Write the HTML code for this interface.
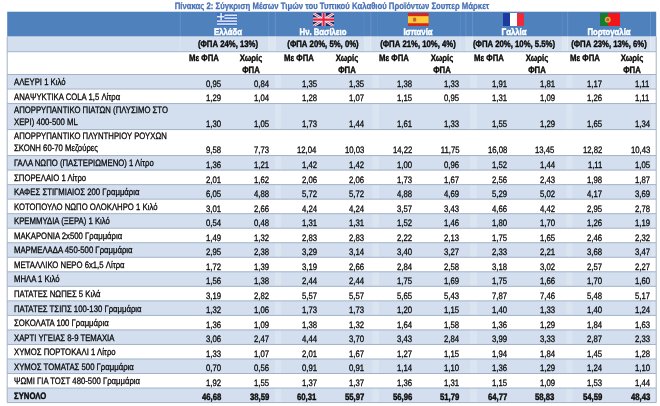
<!DOCTYPE html><html lang="el"><head><meta charset="utf-8"><title>Πίνακας 2</title><style>
html,body{margin:0;padding:0;background:#fff;}
#pg{position:absolute;left:0;top:0;width:660px;height:406px;filter:blur(0.4px);}
body{width:660px;height:406px;overflow:hidden;position:relative;font-family:"Liberation Sans",sans-serif;font-size:9.3px;color:#0a0a0a;text-rendering:geometricPrecision;-webkit-text-stroke-width:0.3px;}
.abs{position:absolute;}
.t{position:absolute;white-space:nowrap;line-height:1;display:block;}
.l{transform:scaleX(0.833);transform-origin:0 0;}
.r{transform:scaleX(0.833);transform-origin:100% 0;text-align:right;}
.c{transform:translateX(-50%) scaleX(0.833);transform-origin:50% 0;text-align:center;}
.b{font-weight:bold;-webkit-text-stroke-width:0.4px;}
.w{-webkit-text-stroke-width:0.55px;}
.flag{position:absolute;display:block;}
#title{color:#4a72b6;font-weight:bold;}
.hd{background:#4f81bd;}
.band{background:#d3dfee;}
.ln{position:absolute;background:#b7c5d9;}
.w{color:#fff;}
</style></head><body><div id="pg">
<div id="title" class="t c" style="left:331.6px;top:2.45px;">Πίνακας 2: Σύγκριση Μέσων Τιμών του Τυπικού Καλαθιού Προϊόντων Σουπερ Μάρκετ</div>
<svg class="abs" style="left:0;top:0" width="660" height="406" viewBox="0 0 660 406"><rect x="7.20" y="11.70" width="649.00" height="24.90" fill="#4f81bd"/><rect x="7.20" y="36.60" width="649.00" height="15.10" fill="#d3dfee"/><rect x="7.20" y="74.50" width="649.00" height="14.53" fill="#d3dfee"/><rect x="7.20" y="103.56" width="649.00" height="26.00" fill="#d3dfee"/><rect x="7.20" y="155.56" width="649.00" height="14.53" fill="#d3dfee"/><rect x="7.20" y="184.62" width="649.00" height="14.53" fill="#d3dfee"/><rect x="7.20" y="213.68" width="649.00" height="14.53" fill="#d3dfee"/><rect x="7.20" y="242.74" width="649.00" height="14.53" fill="#d3dfee"/><rect x="7.20" y="271.80" width="649.00" height="14.53" fill="#d3dfee"/><rect x="7.20" y="300.86" width="649.00" height="14.53" fill="#d3dfee"/><rect x="7.20" y="329.92" width="649.00" height="14.53" fill="#d3dfee"/><rect x="7.20" y="358.98" width="649.00" height="14.53" fill="#d3dfee"/><rect x="7.20" y="388.04" width="649.00" height="14.53" fill="#d3dfee"/><rect x="179.70" y="11.70" width="1.00" height="24.90" fill="rgba(255,255,255,0.12)"/><rect x="179.70" y="36.60" width="1.00" height="15.10" fill="rgba(255,255,255,0.24)"/><rect x="268.20" y="11.70" width="1.00" height="24.90" fill="rgba(255,255,255,0.1)"/><rect x="268.20" y="36.60" width="1.00" height="15.10" fill="rgba(255,255,255,0.20)"/><rect x="274.80" y="11.70" width="1.00" height="24.90" fill="rgba(255,255,255,0.14)"/><rect x="274.80" y="36.60" width="1.00" height="15.10" fill="rgba(255,255,255,0.28)"/><rect x="363.50" y="11.70" width="1.00" height="24.90" fill="rgba(255,255,255,0.06)"/><rect x="363.50" y="36.60" width="1.00" height="15.10" fill="rgba(255,255,255,0.12)"/><rect x="370.40" y="11.70" width="1.00" height="24.90" fill="rgba(255,255,255,0.14)"/><rect x="370.40" y="36.60" width="1.00" height="15.10" fill="rgba(255,255,255,0.28)"/><rect x="376.90" y="11.70" width="1.00" height="24.90" fill="rgba(255,255,255,0.06)"/><rect x="376.90" y="36.60" width="1.00" height="15.10" fill="rgba(255,255,255,0.12)"/><rect x="459.80" y="11.70" width="1.00" height="24.90" fill="rgba(255,255,255,0.08)"/><rect x="459.80" y="36.60" width="1.00" height="15.10" fill="rgba(255,255,255,0.16)"/><rect x="465.40" y="11.70" width="1.00" height="24.90" fill="rgba(255,255,255,0.12)"/><rect x="465.40" y="36.60" width="1.00" height="15.10" fill="rgba(255,255,255,0.24)"/><rect x="472.10" y="11.70" width="1.00" height="24.90" fill="rgba(255,255,255,0.14)"/><rect x="472.10" y="36.60" width="1.00" height="15.10" fill="rgba(255,255,255,0.28)"/><rect x="561.70" y="11.70" width="1.00" height="24.90" fill="rgba(255,255,255,0.08)"/><rect x="561.70" y="36.60" width="1.00" height="15.10" fill="rgba(255,255,255,0.16)"/><rect x="567.20" y="11.70" width="1.00" height="24.90" fill="rgba(255,255,255,0.16)"/><rect x="567.20" y="36.60" width="1.00" height="15.10" fill="rgba(255,255,255,0.32)"/><rect x="650.00" y="11.70" width="1.00" height="24.90" fill="rgba(255,255,255,0.14)"/><rect x="650.00" y="36.60" width="1.00" height="15.10" fill="rgba(255,255,255,0.28)"/><rect x="268.70" y="36.60" width="6.60" height="15.10" fill="rgba(255,255,255,0.22)"/><rect x="364.00" y="36.60" width="6.90" height="15.10" fill="rgba(255,255,255,0.22)"/><rect x="465.90" y="36.60" width="6.70" height="15.10" fill="rgba(255,255,255,0.22)"/><rect x="562.20" y="36.60" width="5.50" height="15.10" fill="rgba(255,255,255,0.22)"/><rect x="650.50" y="36.60" width="5.70" height="15.10" fill="rgba(255,255,255,0.22)"/><rect x="275.00" y="74.50" width="6.00" height="328.07" fill="rgba(255,255,255,0.2)"/><rect x="372.50" y="74.50" width="6.50" height="328.07" fill="rgba(255,255,255,0.2)"/><rect x="470.00" y="74.50" width="7.00" height="328.07" fill="rgba(255,255,255,0.2)"/><rect x="566.50" y="74.50" width="6.00" height="328.07" fill="rgba(255,255,255,0.2)"/><rect x="651.00" y="74.50" width="5.20" height="328.07" fill="rgba(255,255,255,0.2)"/><rect x="7.20" y="51.20" width="649.00" height="1.00" fill="#a3b2c9"/><rect x="7.20" y="74.00" width="649.00" height="1.00" fill="#a3b2c9"/><rect x="7.20" y="88.53" width="649.00" height="1.00" fill="#a3b2c9"/><rect x="7.20" y="103.06" width="649.00" height="1.00" fill="#a3b2c9"/><rect x="7.20" y="129.06" width="649.00" height="1.00" fill="#a3b2c9"/><rect x="7.20" y="155.06" width="649.00" height="1.00" fill="#a3b2c9"/><rect x="7.20" y="169.59" width="649.00" height="1.00" fill="#a3b2c9"/><rect x="7.20" y="184.12" width="649.00" height="1.00" fill="#a3b2c9"/><rect x="7.20" y="198.65" width="649.00" height="1.00" fill="#a3b2c9"/><rect x="7.20" y="213.18" width="649.00" height="1.00" fill="#a3b2c9"/><rect x="7.20" y="227.71" width="649.00" height="1.00" fill="#a3b2c9"/><rect x="7.20" y="242.24" width="649.00" height="1.00" fill="#a3b2c9"/><rect x="7.20" y="256.77" width="649.00" height="1.00" fill="#a3b2c9"/><rect x="7.20" y="271.30" width="649.00" height="1.00" fill="#a3b2c9"/><rect x="7.20" y="285.83" width="649.00" height="1.00" fill="#a3b2c9"/><rect x="7.20" y="300.36" width="649.00" height="1.00" fill="#a3b2c9"/><rect x="7.20" y="314.89" width="649.00" height="1.00" fill="#a3b2c9"/><rect x="7.20" y="329.42" width="649.00" height="1.00" fill="#a3b2c9"/><rect x="7.20" y="343.95" width="649.00" height="1.00" fill="#a3b2c9"/><rect x="7.20" y="358.48" width="649.00" height="1.00" fill="#a3b2c9"/><rect x="7.20" y="373.01" width="649.00" height="1.00" fill="#a3b2c9"/><rect x="7.20" y="387.54" width="649.00" height="1.00" fill="#a3b2c9"/><rect x="7.20" y="402.07" width="649.00" height="1.00" fill="#a3b2c9"/><rect x="6.70" y="36.60" width="1.00" height="365.97" fill="#a3b2c9"/><rect x="655.70" y="36.60" width="1.00" height="365.97" fill="#a3b2c9"/></svg>
<div class="t l" style="left:13.9px;top:78.15px">ΑΛΕΥΡΙ 1 Κιλό</div>
<div class="t r" style="right:438.60px;top:79.95px">0,95</div>
<div class="t r" style="right:391.00px;top:79.95px">0,84</div>
<div class="t r" style="right:343.40px;top:79.95px">1,35</div>
<div class="t r" style="right:295.80px;top:79.95px">1,35</div>
<div class="t r" style="right:248.20px;top:79.95px">1,38</div>
<div class="t r" style="right:200.60px;top:79.95px">1,33</div>
<div class="t r" style="right:153.00px;top:79.95px">1,91</div>
<div class="t r" style="right:105.40px;top:79.95px">1,81</div>
<div class="t r" style="right:57.80px;top:79.95px">1,17</div>
<div class="t r" style="right:10.20px;top:79.95px">1,11</div>
<div class="t l" style="left:13.9px;top:92.68px">ΑΝΑΨΥΚΤΙΚΑ COLA 1,5 Λίτρα</div>
<div class="t r" style="right:438.60px;top:94.48px">1,29</div>
<div class="t r" style="right:391.00px;top:94.48px">1,04</div>
<div class="t r" style="right:343.40px;top:94.48px">1,28</div>
<div class="t r" style="right:295.80px;top:94.48px">1,07</div>
<div class="t r" style="right:248.20px;top:94.48px">1,15</div>
<div class="t r" style="right:200.60px;top:94.48px">0,95</div>
<div class="t r" style="right:153.00px;top:94.48px">1,31</div>
<div class="t r" style="right:105.40px;top:94.48px">1,09</div>
<div class="t r" style="right:57.80px;top:94.48px">1,26</div>
<div class="t r" style="right:10.20px;top:94.48px">1,11</div>
<div class="t l" style="left:13.9px;top:105.91px">ΑΠΟΡΡΥΠΑΝΤΙΚΟ ΠΙΑΤΩΝ (ΠΛΥΣΙΜΟ ΣΤΟ</div>
<div class="t l" style="left:13.9px;top:118.41px">ΧΕΡΙ) 400-500 ML</div>
<div class="t r" style="right:438.60px;top:120.48px">1,30</div>
<div class="t r" style="right:391.00px;top:120.48px">1,05</div>
<div class="t r" style="right:343.40px;top:120.48px">1,73</div>
<div class="t r" style="right:295.80px;top:120.48px">1,44</div>
<div class="t r" style="right:248.20px;top:120.48px">1,61</div>
<div class="t r" style="right:200.60px;top:120.48px">1,33</div>
<div class="t r" style="right:153.00px;top:120.48px">1,55</div>
<div class="t r" style="right:105.40px;top:120.48px">1,29</div>
<div class="t r" style="right:57.80px;top:120.48px">1,65</div>
<div class="t r" style="right:10.20px;top:120.48px">1,34</div>
<div class="t l" style="left:13.9px;top:131.91px">ΑΠΟΡΡΥΠΑΝΤΙΚΟ ΠΛΥΝΤΗΡΙΟΥ ΡΟΥΧΩΝ</div>
<div class="t l" style="left:13.9px;top:144.41px">ΣΚΟΝΗ 60-70 Μεζούρες</div>
<div class="t r" style="right:438.60px;top:146.48px">9,58</div>
<div class="t r" style="right:391.00px;top:146.48px">7,73</div>
<div class="t r" style="right:343.40px;top:146.48px">12,04</div>
<div class="t r" style="right:295.80px;top:146.48px">10,03</div>
<div class="t r" style="right:248.20px;top:146.48px">14,22</div>
<div class="t r" style="right:200.60px;top:146.48px">11,75</div>
<div class="t r" style="right:153.00px;top:146.48px">16,08</div>
<div class="t r" style="right:105.40px;top:146.48px">13,45</div>
<div class="t r" style="right:57.80px;top:146.48px">12,82</div>
<div class="t r" style="right:10.20px;top:146.48px">10,43</div>
<div class="t l" style="left:13.9px;top:159.21px">ΓΑΛΑ ΝΩΠΟ (ΠΑΣΤΕΡΙΩΜΕΝΟ) 1 Λίτρο</div>
<div class="t r" style="right:438.60px;top:161.01px">1,36</div>
<div class="t r" style="right:391.00px;top:161.01px">1,21</div>
<div class="t r" style="right:343.40px;top:161.01px">1,42</div>
<div class="t r" style="right:295.80px;top:161.01px">1,42</div>
<div class="t r" style="right:248.20px;top:161.01px">1,00</div>
<div class="t r" style="right:200.60px;top:161.01px">0,96</div>
<div class="t r" style="right:153.00px;top:161.01px">1,52</div>
<div class="t r" style="right:105.40px;top:161.01px">1,44</div>
<div class="t r" style="right:57.80px;top:161.01px">1,11</div>
<div class="t r" style="right:10.20px;top:161.01px">1,05</div>
<div class="t l" style="left:13.9px;top:173.74px">ΣΠΟΡΕΛΑΙΟ 1 Λίτρο</div>
<div class="t r" style="right:438.60px;top:175.54px">2,01</div>
<div class="t r" style="right:391.00px;top:175.54px">1,62</div>
<div class="t r" style="right:343.40px;top:175.54px">2,06</div>
<div class="t r" style="right:295.80px;top:175.54px">2,06</div>
<div class="t r" style="right:248.20px;top:175.54px">1,73</div>
<div class="t r" style="right:200.60px;top:175.54px">1,67</div>
<div class="t r" style="right:153.00px;top:175.54px">2,56</div>
<div class="t r" style="right:105.40px;top:175.54px">2,43</div>
<div class="t r" style="right:57.80px;top:175.54px">1,98</div>
<div class="t r" style="right:10.20px;top:175.54px">1,87</div>
<div class="t l" style="left:13.9px;top:188.27px">ΚΑΦΕΣ ΣΤΙΓΜΙΑΙΟΣ 200 Γραμμάρια</div>
<div class="t r" style="right:438.60px;top:190.07px">6,05</div>
<div class="t r" style="right:391.00px;top:190.07px">4,88</div>
<div class="t r" style="right:343.40px;top:190.07px">5,72</div>
<div class="t r" style="right:295.80px;top:190.07px">5,72</div>
<div class="t r" style="right:248.20px;top:190.07px">4,88</div>
<div class="t r" style="right:200.60px;top:190.07px">4,69</div>
<div class="t r" style="right:153.00px;top:190.07px">5,29</div>
<div class="t r" style="right:105.40px;top:190.07px">5,02</div>
<div class="t r" style="right:57.80px;top:190.07px">4,17</div>
<div class="t r" style="right:10.20px;top:190.07px">3,69</div>
<div class="t l" style="left:13.9px;top:202.80px">ΚΟΤΟΠΟΥΛΟ ΝΩΠΟ ΟΛΟΚΛΗΡΟ 1 Κιλό</div>
<div class="t r" style="right:438.60px;top:204.60px">3,01</div>
<div class="t r" style="right:391.00px;top:204.60px">2,66</div>
<div class="t r" style="right:343.40px;top:204.60px">4,24</div>
<div class="t r" style="right:295.80px;top:204.60px">4,24</div>
<div class="t r" style="right:248.20px;top:204.60px">3,57</div>
<div class="t r" style="right:200.60px;top:204.60px">3,43</div>
<div class="t r" style="right:153.00px;top:204.60px">4,66</div>
<div class="t r" style="right:105.40px;top:204.60px">4,42</div>
<div class="t r" style="right:57.80px;top:204.60px">2,95</div>
<div class="t r" style="right:10.20px;top:204.60px">2,78</div>
<div class="t l" style="left:13.9px;top:217.33px">ΚΡΕΜΜΥΔΙΑ (ΞΕΡΑ) 1 Κιλό</div>
<div class="t r" style="right:438.60px;top:219.13px">0,54</div>
<div class="t r" style="right:391.00px;top:219.13px">0,48</div>
<div class="t r" style="right:343.40px;top:219.13px">1,31</div>
<div class="t r" style="right:295.80px;top:219.13px">1,31</div>
<div class="t r" style="right:248.20px;top:219.13px">1,52</div>
<div class="t r" style="right:200.60px;top:219.13px">1,46</div>
<div class="t r" style="right:153.00px;top:219.13px">1,80</div>
<div class="t r" style="right:105.40px;top:219.13px">1,70</div>
<div class="t r" style="right:57.80px;top:219.13px">1,26</div>
<div class="t r" style="right:10.20px;top:219.13px">1,19</div>
<div class="t l" style="left:13.9px;top:231.86px">ΜΑΚΑΡΟΝΙΑ 2x500 Γραμμάρια</div>
<div class="t r" style="right:438.60px;top:233.66px">1,49</div>
<div class="t r" style="right:391.00px;top:233.66px">1,32</div>
<div class="t r" style="right:343.40px;top:233.66px">2,83</div>
<div class="t r" style="right:295.80px;top:233.66px">2,83</div>
<div class="t r" style="right:248.20px;top:233.66px">2,22</div>
<div class="t r" style="right:200.60px;top:233.66px">2,13</div>
<div class="t r" style="right:153.00px;top:233.66px">1,75</div>
<div class="t r" style="right:105.40px;top:233.66px">1,65</div>
<div class="t r" style="right:57.80px;top:233.66px">2,46</div>
<div class="t r" style="right:10.20px;top:233.66px">2,32</div>
<div class="t l" style="left:13.9px;top:246.39px">ΜΑΡΜΕΛΑΔΑ 450-500 Γραμμάρια</div>
<div class="t r" style="right:438.60px;top:248.19px">2,95</div>
<div class="t r" style="right:391.00px;top:248.19px">2,38</div>
<div class="t r" style="right:343.40px;top:248.19px">3,29</div>
<div class="t r" style="right:295.80px;top:248.19px">3,14</div>
<div class="t r" style="right:248.20px;top:248.19px">3,40</div>
<div class="t r" style="right:200.60px;top:248.19px">3,27</div>
<div class="t r" style="right:153.00px;top:248.19px">2,33</div>
<div class="t r" style="right:105.40px;top:248.19px">2,21</div>
<div class="t r" style="right:57.80px;top:248.19px">3,68</div>
<div class="t r" style="right:10.20px;top:248.19px">3,47</div>
<div class="t l" style="left:13.9px;top:260.92px">ΜΕΤΑΛΛΙΚΟ ΝΕΡΟ 6x1,5 Λίτρα</div>
<div class="t r" style="right:438.60px;top:262.72px">1,72</div>
<div class="t r" style="right:391.00px;top:262.72px">1,39</div>
<div class="t r" style="right:343.40px;top:262.72px">3,19</div>
<div class="t r" style="right:295.80px;top:262.72px">2,66</div>
<div class="t r" style="right:248.20px;top:262.72px">2,84</div>
<div class="t r" style="right:200.60px;top:262.72px">2,58</div>
<div class="t r" style="right:153.00px;top:262.72px">3,18</div>
<div class="t r" style="right:105.40px;top:262.72px">3,02</div>
<div class="t r" style="right:57.80px;top:262.72px">2,57</div>
<div class="t r" style="right:10.20px;top:262.72px">2,27</div>
<div class="t l" style="left:13.9px;top:275.45px">ΜΗΛΑ 1 Κιλό</div>
<div class="t r" style="right:438.60px;top:277.25px">1,56</div>
<div class="t r" style="right:391.00px;top:277.25px">1,38</div>
<div class="t r" style="right:343.40px;top:277.25px">2,44</div>
<div class="t r" style="right:295.80px;top:277.25px">2,44</div>
<div class="t r" style="right:248.20px;top:277.25px">1,75</div>
<div class="t r" style="right:200.60px;top:277.25px">1,69</div>
<div class="t r" style="right:153.00px;top:277.25px">1,75</div>
<div class="t r" style="right:105.40px;top:277.25px">1,66</div>
<div class="t r" style="right:57.80px;top:277.25px">1,70</div>
<div class="t r" style="right:10.20px;top:277.25px">1,60</div>
<div class="t l" style="left:13.9px;top:289.98px">ΠΑΤΑΤΕΣ ΝΩΠΕΣ 5 Κιλά</div>
<div class="t r" style="right:438.60px;top:291.78px">3,19</div>
<div class="t r" style="right:391.00px;top:291.78px">2,82</div>
<div class="t r" style="right:343.40px;top:291.78px">5,57</div>
<div class="t r" style="right:295.80px;top:291.78px">5,57</div>
<div class="t r" style="right:248.20px;top:291.78px">5,65</div>
<div class="t r" style="right:200.60px;top:291.78px">5,43</div>
<div class="t r" style="right:153.00px;top:291.78px">7,87</div>
<div class="t r" style="right:105.40px;top:291.78px">7,46</div>
<div class="t r" style="right:57.80px;top:291.78px">5,48</div>
<div class="t r" style="right:10.20px;top:291.78px">5,17</div>
<div class="t l" style="left:13.9px;top:304.51px">ΠΑΤΑΤΕΣ ΤΣΙΠΣ 100-130 Γραμμάρια</div>
<div class="t r" style="right:438.60px;top:306.31px">1,32</div>
<div class="t r" style="right:391.00px;top:306.31px">1,06</div>
<div class="t r" style="right:343.40px;top:306.31px">1,73</div>
<div class="t r" style="right:295.80px;top:306.31px">1,73</div>
<div class="t r" style="right:248.20px;top:306.31px">1,20</div>
<div class="t r" style="right:200.60px;top:306.31px">1,15</div>
<div class="t r" style="right:153.00px;top:306.31px">1,40</div>
<div class="t r" style="right:105.40px;top:306.31px">1,33</div>
<div class="t r" style="right:57.80px;top:306.31px">1,40</div>
<div class="t r" style="right:10.20px;top:306.31px">1,24</div>
<div class="t l" style="left:13.9px;top:319.04px">ΣΟΚΟΛΑΤΑ 100 Γραμμάρια</div>
<div class="t r" style="right:438.60px;top:320.84px">1,36</div>
<div class="t r" style="right:391.00px;top:320.84px">1,09</div>
<div class="t r" style="right:343.40px;top:320.84px">1,38</div>
<div class="t r" style="right:295.80px;top:320.84px">1,32</div>
<div class="t r" style="right:248.20px;top:320.84px">1,64</div>
<div class="t r" style="right:200.60px;top:320.84px">1,58</div>
<div class="t r" style="right:153.00px;top:320.84px">1,36</div>
<div class="t r" style="right:105.40px;top:320.84px">1,29</div>
<div class="t r" style="right:57.80px;top:320.84px">1,84</div>
<div class="t r" style="right:10.20px;top:320.84px">1,63</div>
<div class="t l" style="left:13.9px;top:333.57px">ΧΑΡΤΙ ΥΓΕΙΑΣ 8-9 ΤΕΜΑΧΙΑ</div>
<div class="t r" style="right:438.60px;top:335.37px">3,06</div>
<div class="t r" style="right:391.00px;top:335.37px">2,47</div>
<div class="t r" style="right:343.40px;top:335.37px">4,44</div>
<div class="t r" style="right:295.80px;top:335.37px">3,70</div>
<div class="t r" style="right:248.20px;top:335.37px">3,43</div>
<div class="t r" style="right:200.60px;top:335.37px">2,84</div>
<div class="t r" style="right:153.00px;top:335.37px">3,99</div>
<div class="t r" style="right:105.40px;top:335.37px">3,33</div>
<div class="t r" style="right:57.80px;top:335.37px">2,87</div>
<div class="t r" style="right:10.20px;top:335.37px">2,33</div>
<div class="t l" style="left:13.9px;top:348.10px">ΧΥΜΟΣ ΠΟΡΤΟΚΑΛΙ 1 Λίτρο</div>
<div class="t r" style="right:438.60px;top:349.90px">1,33</div>
<div class="t r" style="right:391.00px;top:349.90px">1,07</div>
<div class="t r" style="right:343.40px;top:349.90px">2,01</div>
<div class="t r" style="right:295.80px;top:349.90px">1,67</div>
<div class="t r" style="right:248.20px;top:349.90px">1,27</div>
<div class="t r" style="right:200.60px;top:349.90px">1,15</div>
<div class="t r" style="right:153.00px;top:349.90px">1,94</div>
<div class="t r" style="right:105.40px;top:349.90px">1,84</div>
<div class="t r" style="right:57.80px;top:349.90px">1,45</div>
<div class="t r" style="right:10.20px;top:349.90px">1,28</div>
<div class="t l" style="left:13.9px;top:362.63px">ΧΥΜΟΣ ΤΟΜΑΤΑΣ 500 Γραμμάρια</div>
<div class="t r" style="right:438.60px;top:364.43px">0,70</div>
<div class="t r" style="right:391.00px;top:364.43px">0,56</div>
<div class="t r" style="right:343.40px;top:364.43px">0,91</div>
<div class="t r" style="right:295.80px;top:364.43px">0,91</div>
<div class="t r" style="right:248.20px;top:364.43px">1,14</div>
<div class="t r" style="right:200.60px;top:364.43px">1,10</div>
<div class="t r" style="right:153.00px;top:364.43px">1,36</div>
<div class="t r" style="right:105.40px;top:364.43px">1,29</div>
<div class="t r" style="right:57.80px;top:364.43px">1,24</div>
<div class="t r" style="right:10.20px;top:364.43px">1,10</div>
<div class="t l" style="left:13.9px;top:377.16px">ΨΩΜΙ ΓΙΑ ΤΟΣΤ 480-500 Γραμμάρια</div>
<div class="t r" style="right:438.60px;top:378.96px">1,92</div>
<div class="t r" style="right:391.00px;top:378.96px">1,55</div>
<div class="t r" style="right:343.40px;top:378.96px">1,37</div>
<div class="t r" style="right:295.80px;top:378.96px">1,37</div>
<div class="t r" style="right:248.20px;top:378.96px">1,36</div>
<div class="t r" style="right:200.60px;top:378.96px">1,31</div>
<div class="t r" style="right:153.00px;top:378.96px">1,15</div>
<div class="t r" style="right:105.40px;top:378.96px">1,09</div>
<div class="t r" style="right:57.80px;top:378.96px">1,53</div>
<div class="t r" style="right:10.20px;top:378.96px">1,44</div>
<div class="t l b" style="left:13.9px;top:392.19px">ΣΥΝΟΛΟ</div>
<div class="t r b" style="right:438.60px;top:392.79px">46,68</div>
<div class="t r b" style="right:391.00px;top:392.79px">38,59</div>
<div class="t r b" style="right:343.40px;top:392.79px">60,31</div>
<div class="t r b" style="right:295.80px;top:392.79px">55,97</div>
<div class="t r b" style="right:248.20px;top:392.79px">56,96</div>
<div class="t r b" style="right:200.60px;top:392.79px">51,79</div>
<div class="t r b" style="right:153.00px;top:392.79px">64,77</div>
<div class="t r b" style="right:105.40px;top:392.79px">58,83</div>
<div class="t r b" style="right:57.80px;top:392.79px">54,59</div>
<div class="t r b" style="right:10.20px;top:392.79px">48,43</div>
<svg class="flag" style="left:217.30px;top:12.8px;width:20.10px;height:13.3px" viewBox="0 0 27 18" preserveAspectRatio="none"><rect width="27" height="18" fill="#3f6fc0"/><g fill="#e4ecf7"><rect y="2" x="10" width="17" height="2"/><rect y="6" x="10" width="17" height="2"/><rect y="10" width="27" height="2"/><rect y="14" width="27" height="2"/><rect x="4.5" width="2" height="10"/><rect y="4" width="10" height="2"/></g></svg>
<div class="t c b w" style="left:227.60px;top:28.05px">Ελλάδα</div>
<div class="t c b" style="left:227.60px;top:40.35px">(ΦΠΑ 24%, 13%)</div>
<div class="t c b" style="left:203.80px;top:54.35px">Με ΦΠΑ</div>
<div class="t c b" style="left:251.40px;top:54.35px">Χωρίς</div>
<div class="t c b" style="left:251.40px;top:65.65px">ΦΠΑ</div>
<svg class="flag" style="left:312.50px;top:12.8px;width:21.20px;height:13.3px" viewBox="0 0 60 36" preserveAspectRatio="none"><rect width="60" height="36" fill="#1f2a6b"/><path d="M0,0 60,36 M60,0 0,36" stroke="#f3e6ee" stroke-width="7"/><path d="M0,0 60,36 M60,0 0,36" stroke="#e0455a" stroke-width="2.4"/><path d="M30,0V36M0,18H60" stroke="#f7e9ee" stroke-width="11"/><path d="M30,0V36M0,18H60" stroke="#e8203a" stroke-width="6"/></svg>
<div class="t c b w" style="left:323.00px;top:28.05px">Ην. Βασίλειο</div>
<div class="t c b" style="left:323.00px;top:40.35px">(ΦΠΑ 20%, 5%, 0%)</div>
<div class="t c b" style="left:299.00px;top:54.35px">Με ΦΠΑ</div>
<div class="t c b" style="left:346.60px;top:54.35px">Χωρίς</div>
<div class="t c b" style="left:346.60px;top:65.65px">ΦΠΑ</div>
<svg class="flag" style="left:408.00px;top:12.8px;width:20.60px;height:13.3px" viewBox="0 0 30 20" preserveAspectRatio="none"><rect width="30" height="20" fill="#d8261c"/><rect y="4.8" width="30" height="10.6" fill="#fccb3a"/><ellipse cx="9.6" cy="10" rx="2.6" ry="3.2" fill="#c0642a"/></svg>
<div class="t c b w" style="left:418.40px;top:28.05px">Ισπανία</div>
<div class="t c b" style="left:418.40px;top:40.35px">(ΦΠΑ 21%, 10%, 4%)</div>
<div class="t c b" style="left:394.20px;top:54.35px">Με ΦΠΑ</div>
<div class="t c b" style="left:441.80px;top:54.35px">Χωρίς</div>
<div class="t c b" style="left:441.80px;top:65.65px">ΦΠΑ</div>
<svg class="flag" style="left:503.00px;top:12.8px;width:21.00px;height:13.3px" viewBox="0 0 30 20" preserveAspectRatio="none"><rect width="30" height="20" fill="#ee2b3b"/><rect width="20" height="20" fill="#fff"/><rect width="10" height="20" fill="#1d3a9e"/></svg>
<div class="t c b w" style="left:513.80px;top:28.05px">Γαλλία</div>
<div class="t c b" style="left:513.80px;top:40.35px">(ΦΠΑ 20%, 10%, 5.5%)</div>
<div class="t c b" style="left:489.40px;top:54.35px">Με ΦΠΑ</div>
<div class="t c b" style="left:537.00px;top:54.35px">Χωρίς</div>
<div class="t c b" style="left:537.00px;top:65.65px">ΦΠΑ</div>
<svg class="flag" style="left:600.00px;top:12.8px;width:20.00px;height:13.3px" viewBox="0 0 30 20" preserveAspectRatio="none"><rect width="30" height="20" fill="#f2161b"/><rect width="12" height="20" fill="#1a7a34"/><circle cx="11.6" cy="10" r="4.4" fill="#c9b93a"/><circle cx="11.6" cy="10" r="2.4" fill="#d8502a"/></svg>
<div class="t c b w" style="left:609.20px;top:28.05px">Πορτογαλία</div>
<div class="t c b" style="left:609.20px;top:40.35px">(ΦΠΑ 23%, 13%, 6%)</div>
<div class="t c b" style="left:584.60px;top:54.35px">Με ΦΠΑ</div>
<div class="t c b" style="left:632.20px;top:54.35px">Χωρίς</div>
<div class="t c b" style="left:632.20px;top:65.65px">ΦΠΑ</div>
</div></body></html>
